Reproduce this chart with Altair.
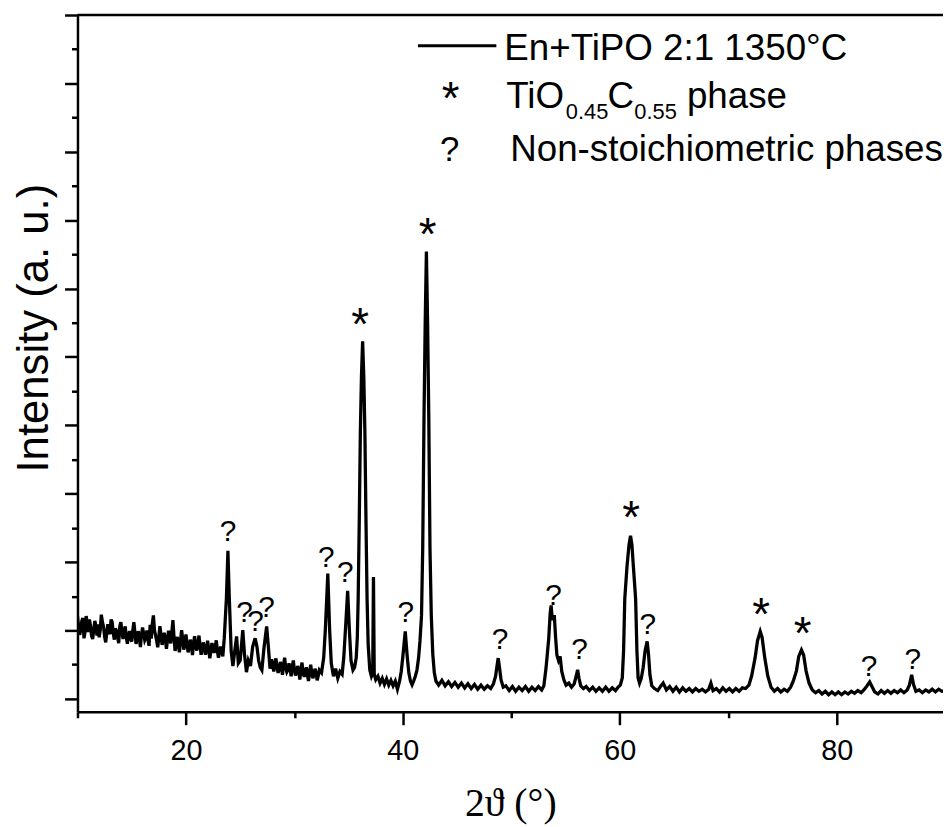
import altair as alt
import pandas as pd

# ---------------- diffraction pattern ----------------
# 10 - 23.4 deg : noisy amorphous background
x_a = [10.0, 10.2, 10.4, 10.6, 10.8, 11.0, 11.2, 11.4, 11.6, 11.8,
       12.0, 12.2, 12.4, 12.6, 12.8, 13.0, 13.2, 13.4, 13.6, 13.8,
       14.0, 14.2, 14.4, 14.6, 14.8, 15.0, 15.2, 15.4, 15.6, 15.8,
       16.0, 16.2, 16.4, 16.6, 16.8, 17.0, 17.2, 17.4, 17.6, 17.8,
       18.0, 18.2, 18.4, 18.6, 18.8, 19.0, 19.2, 19.4, 19.6, 19.8,
       20.0, 20.2, 20.4, 20.6, 20.8, 21.0, 21.2, 21.4, 21.6, 21.8,
       22.0, 22.2, 22.4, 22.6, 22.8, 23.0, 23.2, 23.4]
y_a = [1210, 935, 1140, 885, 1210, 975, 1070, 875, 1140, 925,
       900, 1230, 1060, 825, 1090, 945, 1120, 865, 990, 815,
       1120, 875, 1060, 805, 990, 835, 1120, 805, 990, 755,
       1042, 860, 998, 775, 880, 1220, 927, 754, 1061, 788,
       965, 730, 995, 810, 1150, 700, 905, 680, 1005, 720,
       940, 680, 865, 640, 915, 705, 925, 645, 825, 645,
       848, 592, 816, 670, 855, 600, 765, 620]
# in-between readings of the same noisy stretch
x_a_mid = [10.1, 10.3, 10.5, 10.7, 10.9, 11.1, 11.3, 11.5, 11.7, 11.9,
           12.1, 12.3, 12.5, 12.7, 12.9, 13.1, 13.3, 13.5, 13.7, 13.9,
           14.1, 14.3, 14.5, 14.7, 14.9, 15.1, 15.3, 15.5, 15.7, 15.9,
           16.1, 16.3, 16.5, 16.7, 16.9, 17.1, 17.3, 17.5, 17.7, 17.9,
           18.1, 18.3, 18.5, 18.7, 18.9, 19.1, 19.3, 19.5, 19.7, 19.9,
           20.1, 20.3, 20.5, 20.7, 20.9, 21.1, 21.3, 21.5, 21.7, 21.9,
           22.1, 22.3, 22.5, 22.7, 22.9, 23.1, 23.3]
y_a_mid = [1050, 1000, 1180, 980, 1100, 1160, 920, 1010, 1060, 1090,
           1010, 1120, 910, 960, 1000, 1160, 960, 1030, 900, 1060,
           980, 940, 900, 920, 890, 1000, 960, 870, 900, 930,
           950, 900, 860, 1080, 1100, 1000, 850, 900, 930, 850,
           880, 860, 900, 980, 900, 820, 780, 850, 880, 800,
           800, 760, 790, 820, 760, 800, 780, 720, 760, 720,
           720, 700, 740, 760, 700, 690, 700]

# 23.5 - 32.5 deg
x_b = [23.53, 23.73, 23.87, 24.0, 24.17, 24.33, 24.5, 24.67, 24.83, 25.0,
       25.24, 25.4, 25.58, 25.75, 25.95, 26.15, 26.38, 26.55, 26.7, 26.85,
       27.0, 27.2, 27.44, 27.6, 27.75, 27.9, 28.1, 28.3, 28.5, 28.7,
       28.9, 29.1, 29.3, 29.5, 29.7, 29.9, 30.1, 30.3, 30.5, 30.7,
       30.9, 31.1, 31.3, 31.5, 31.7, 31.9, 32.1, 32.3, 32.5]
y_b = [880, 1465, 2165, 1465, 700, 480, 700, 913, 520, 560,
       1005, 650, 390, 560, 480, 760, 885, 760, 560, 460,
       420, 750, 1058, 760, 440, 580, 400, 590, 380, 540,
       350, 600, 390, 520, 330, 560, 340, 480, 280, 530,
       320, 460, 260, 500, 300, 440, 270, 420, 380]
x_b_mid = [28.0, 28.2, 28.4, 28.6, 28.8, 29.0, 29.2, 29.4, 29.6, 29.8,
           30.0, 30.2, 30.4, 30.6, 30.8, 31.0, 31.2, 31.4, 31.6, 31.8,
           32.0, 32.2, 32.4]
y_b_mid = [480, 520, 460, 430, 470, 500, 450, 420, 440, 470,
           420, 390, 410, 420, 380, 400, 350, 390, 380, 360,
           380, 340, 400]

# 32.7 - 35.6 deg
x_c = [32.7, 32.85, 33.08, 33.25, 33.4, 33.6, 33.8, 34.0, 34.2, 34.4,
       34.55, 34.72, 34.91, 35.07, 35.22, 35.4, 35.55]
y_c = [600, 1000, 1830, 1000, 520, 330, 440, 300, 400, 360,
       600, 1050, 1580, 1000, 560, 420, 460]

# 35.7 - 37.0 deg (TiOC 111)
x_d = [35.7, 35.8, 35.88, 35.98, 36.08, 36.18, 36.29, 36.4, 36.5, 36.6,
       36.7, 36.8, 36.95]
y_d = [600, 900, 1465, 2600, 3890, 4700, 5230, 4700, 3890, 2600,
       1465, 800, 420]

# 37.1 - 41.2 deg
x_e = [37.1, 37.22, 37.29, 37.36, 37.5, 37.7, 37.9, 38.1, 38.3, 38.5,
       38.7, 38.9, 39.1, 39.3, 39.5, 39.7, 39.85, 40.0, 40.22, 40.4,
       40.55, 40.7, 40.85, 41.0, 41.15]
y_e = [330, 380, 1780, 360, 280, 330, 230, 300, 210, 290,
       200, 270, 190, 260, 140, 260, 400, 620, 985, 620,
       380, 260, 205, 260, 330]

# 41.3 - 42.9 deg (TiOC 200)
x_f = [41.3, 41.45, 41.58, 41.72, 41.83, 41.95, 42.06, 42.17, 42.28, 42.39,
       42.5, 42.62, 42.76, 42.9]
y_f = [420, 600, 850, 1220, 2200, 4120, 5500, 6540, 5500, 4120,
       2200, 1220, 650, 380]

# 43 - 53 deg
x_g = [43.05, 43.3, 43.6, 43.9, 44.2, 44.5, 44.8, 45.1, 45.4, 45.7,
       46.0, 46.3, 46.6, 46.9, 47.2, 47.5, 47.8, 48.1, 48.35, 48.55,
       48.68, 48.79, 48.9, 49.05, 49.25, 49.5, 49.8, 50.1, 50.4, 50.7,
       51.0, 51.3, 51.6, 51.9, 52.2, 52.5, 52.8, 53.0]
y_g = [260, 200, 270, 190, 250, 180, 240, 170, 230, 160,
       220, 150, 210, 140, 200, 140, 190, 150, 220, 330,
       480, 595, 470, 280, 170, 190, 120, 180, 110, 170,
       120, 180, 110, 170, 120, 180, 130, 190]

# 53.2 - 56.7 deg
x_h = [53.2, 53.45, 53.58, 53.67, 53.78, 53.88, 53.97, 54.08, 54.2, 54.35,
       54.5, 54.65, 54.85, 55.05, 55.3, 55.55, 55.8, 55.98, 56.11, 56.24,
       56.4, 56.65]
y_h = [450, 885, 1250, 1367, 1150, 1200, 1200, 900, 640, 560,
       620, 400, 275, 200, 230, 170, 220, 330, 425, 300,
       190, 150]

# 56.9 - 60.1 deg
x_i = [56.9, 57.2, 57.5, 57.8, 58.1, 58.4, 58.7, 59.0, 59.3, 59.6,
       59.85, 60.05]
y_i = [180, 120, 170, 110, 160, 110, 170, 110, 160, 120,
       170, 200]

# 60.2 - 63 deg (TiOC 220)
x_j = [60.23, 60.35, 60.46, 60.67, 60.85, 60.99, 61.12, 61.25, 61.46, 61.58,
       61.69, 61.82, 61.98, 62.15, 62.33, 62.52, 62.65, 62.78, 62.95]
y_j = [305, 700, 1465, 1945, 2250, 2383, 2250, 1945, 1465, 700,
       305, 230, 300, 450, 700, 840, 650, 350, 190]

# 63.2 - 71.6 deg
x_k = [63.2, 63.5, 63.8, 64.0, 64.3, 64.6, 64.9, 65.2, 65.5, 65.8,
       66.1, 66.4, 66.7, 67.0, 67.3, 67.6, 67.9, 68.2, 68.4, 68.6,
       68.9, 69.2, 69.5, 69.8, 70.1, 70.4, 70.7, 71.0, 71.3, 71.6]
y_k = [150, 120, 190, 230, 130, 180, 110, 170, 100, 160,
       110, 150, 100, 150, 110, 140, 100, 140, 230, 120,
       150, 100, 160, 110, 150, 100, 150, 110, 160, 150]

# 71.9 - 77.8 deg (TiOC 311, 222)
x_l = [71.9, 72.15, 72.47, 72.7, 72.95, 73.12, 73.37, 73.65, 73.95, 74.25,
       74.55, 74.85, 75.15, 75.45, 75.75, 76.0, 76.28, 76.5, 76.75, 76.95,
       77.18, 77.45, 77.75]
y_l = [200, 330, 595, 850, 985, 900, 595, 330, 170, 110,
       150, 100, 140, 110, 170, 260, 405, 620, 715, 640,
       405, 230, 130]

# 78 - 90 deg
x_m = [78.05, 78.35, 78.65, 78.95, 79.25, 79.55, 79.85, 80.15, 80.45, 80.75,
       81.05, 81.35, 81.65, 81.95, 82.25, 82.5, 82.75, 83.04, 83.25, 83.5,
       83.8, 84.1, 84.4, 84.7, 85.0, 85.3, 85.6, 85.9, 86.2, 86.5,
       86.7, 86.91, 87.08, 87.3, 87.6, 87.9, 88.2, 88.5, 88.8, 89.1,
       89.4, 89.7, 90.0]
y_m = [90, 120, 70, 110, 60, 100, 60, 100, 60, 100,
       70, 110, 80, 120, 90, 130, 180, 246, 180, 100,
       70, 120, 80, 120, 80, 120, 90, 130, 90, 130,
       200, 352, 210, 110, 130, 90, 130, 100, 140, 100,
       140, 110, 120]

two_theta = (x_a + x_a_mid + x_b + x_b_mid + x_c + x_d + x_e + x_f + x_g + x_h
             + x_i + x_j + x_k + x_l + x_m)
intensity = (y_a + y_a_mid + y_b + y_b_mid + y_c + y_d + y_e + y_f + y_g + y_h
             + y_i + y_j + y_k + y_l + y_m)

# peak markers ("?" = non-stoichiometric phases, "*" = TiO0.45C0.55)
q_theta = [23.87, 25.40, 26.41, 27.42, 32.95, 34.69, 40.27, 48.96, 53.90, 56.28, 62.59, 82.99, 87.01]
q_int = [2465, 1277, 1147, 1350, 2090, 1872, 1277, 885, 1538, 740, 1103, 493, 595]
star_theta = [36.06, 42.28, 61.04, 73.02, 76.86]
star_int = [5530, 6835, 2700, 1277, 1000]

x_ticks = [10, 20, 30, 40, 50, 60, 70, 80]
y_ticks = list(range(0, 10001, 500))

# ---------------- chart ----------------
W, H = 872, 702
FONT = "Liberation Sans"

x_scale = alt.Scale(domain=[10, 89.8], nice=False, zero=False)
y_scale = alt.Scale(domain=[-190, 10000], nice=False, zero=False)

x_axis = alt.Axis(
    values=x_ticks, format="d",
    labelExpr="datum.value % 20 == 0 ? datum.label : ''",
    labelFont=FONT, labelFontSize=29, labelColor="black", labelPadding=12,
    labelFlush=False, labelOverlap=False,
    tickSize=13, tickWidth=2.5, tickColor="black",
    tickDash={"condition": {"test": "datum.value % 20 != 0", "value": [6, 40]}, "value": [40, 0]},
    domainColor="black", domainWidth=2.5, grid=False,
    title="2ϑ (°)", titleFont="Liberation Serif", titleFontSize=40,
    titleFontWeight="normal", titleColor="black",
    titleX=W / 2, titleY=104, titleAlign="center", titleBaseline="alphabetic",
)
y_axis = alt.Axis(
    values=y_ticks, labels=False,
    tickSize=13, tickWidth=2.5, tickColor="black",
    tickDash={"condition": {"test": "datum.value % 1000 != 0", "value": [6, 40]}, "value": [40, 0]},
    domainColor="black", domainWidth=2.5, grid=False,
    title="Intensity (a. u.)", titleFont=FONT, titleFontSize=44,
    titleFontWeight="normal", titleColor="black",
    titleX=-30, titleY=315, titleAngle=270, titleAlign="center", titleBaseline="alphabetic",
)

X = alt.X("two_theta:Q", scale=x_scale, axis=x_axis)
Y = alt.Y("intensity:Q", scale=y_scale, axis=y_axis)

df = pd.DataFrame({"two_theta": two_theta, "intensity": intensity})
line = alt.Chart(df).mark_line(color="black", strokeWidth=3.3, clip=True).encode(x=X, y=Y)

qdf = pd.DataFrame({"two_theta": q_theta, "intensity": q_int, "sym": ["?"] * len(q_theta)})
sdf = pd.DataFrame({"two_theta": star_theta, "intensity": star_int, "sym": ["*"] * len(star_theta)})

q_layer = alt.Chart(qdf).mark_text(font=FONT, fontSize=30, baseline="alphabetic", dy=11,
                                   color="black").encode(x=X, y=Y, text="sym:N")
s_layer = alt.Chart(sdf).mark_text(font=FONT, fontSize=46, baseline="alphabetic", dy=19,
                                   color="black").encode(x=X, y=Y, text="sym:N")

top_edge = alt.Chart(pd.DataFrame({"edge": ["top"]})).mark_rule(
    color="black", strokeWidth=2.5).encode(x=alt.value(0), x2=alt.value(W), y=alt.value(0))

legend_sample = alt.Chart(pd.DataFrame({"edge": ["sample"]})).mark_rule(
    color="black", strokeWidth=3).encode(x=alt.value(343), x2=alt.value(422), y=alt.value(31))


def text_piece(txt, x, y, size, align="left"):
    return alt.Chart(pd.DataFrame({"t": [txt]})).mark_text(
        font=FONT, fontSize=size, align=align, baseline="alphabetic", color="black"
    ).encode(x=alt.value(x), y=alt.value(y), text="t:N")


LEG = 37
SUB = 22
legend = [
    legend_sample,
    text_piece("En+TiPO 2:1 1350°C", 430, 45, LEG),
    text_piece("*", 376, 100, 46, align="center"),
    text_piece("TiO", 432, 94, LEG),
    text_piece("0.45", 492, 105, SUB),
    text_piece("C", 534, 94, LEG),
    text_piece("0.55", 561, 105, SUB),
    text_piece("phase", 614, 94, LEG),
    text_piece("?", 375, 147, 35, align="center"),
    text_piece("Non-stoichiometric phases", 436, 147, LEG),
]

chart = alt.layer(line, q_layer, s_layer, top_edge, *legend).properties(
    width=W, height=H,
    autosize=alt.AutoSizeParams(type="none"),
    padding={"left": 70, "top": 4, "right": 0, "bottom": 113},
).configure_view(stroke=None)

chart.save("out.html", embed_options={"renderer": "svg", "actions": False})
